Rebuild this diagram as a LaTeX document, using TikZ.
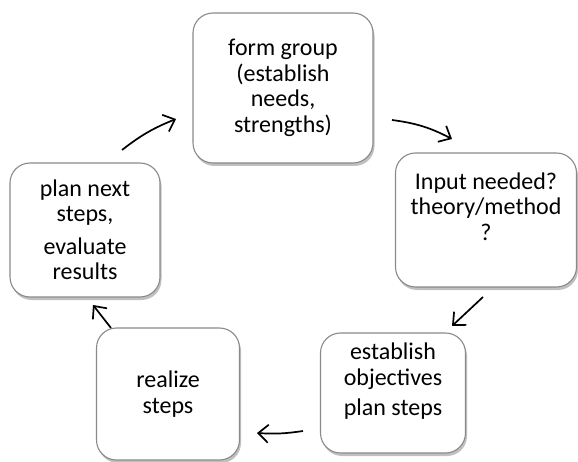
\documentclass[tikz,border=0pt]{standalone}
\usepackage{fontspec}
\setmainfont{Carlito}
\usetikzlibrary{arrows.meta,shadows}
\definecolor{boxline}{HTML}{8A8A8A}
\tikzset{
  box/.style={draw=boxline, line width=1.1pt, fill=white, rounded corners=20pt,
    align=center, inner sep=0pt, font=\fontsize{24}{25.5}\selectfont,
    drop shadow={shadow xshift=1.5pt, shadow yshift=-3pt, opacity=0.45, fill=black!55}},
  flow/.style={line width=1.7pt, -{Straight Barb[length=10pt,width=18pt,line width=1.7pt]}}
}
\begin{document}
\begin{tikzpicture}[x=1pt,y=-1pt]
\useasboundingbox (0,0) rectangle (578,462);
\node[box, minimum width=180pt, minimum height=150pt] (form) at (283,88)
  {form group\\(establish\\needs,\\strengths)};
\node[box, minimum width=181pt, minimum height=134pt] (input) at (486,220)
  {Input needed?\\theory/method\\?\\[2pt]};
\node[box, minimum width=150pt, minimum height=134pt] (plan) at (85,230)
  {plan next\\steps,\\[7pt]evaluate\\results};
\node[box, minimum width=143pt, minimum height=132pt] (real) at (168,394)
  {realize\\steps};
\node[box, minimum width=145pt, minimum height=120pt] (estab) at (393,393)
  {establish\\objectives\\[5pt]plan steps\\[2pt]};
% arrow end points
\coordinate (a1s) at (122,150); \coordinate (a1e) at (176,119);
\coordinate (a2s) at (392,120); \coordinate (a2e) at (452,139);
\coordinate (a3s) at (483,297); \coordinate (a3e) at (452,326);
\coordinate (a4s) at (303,431); \coordinate (a4e) at (257,433);
\coordinate (a5s) at (111,328); \coordinate (a5e) at (93,305);
\draw[flow] (a1s) to[bend left=8] (a1e);
\draw[flow] (a2s) to[bend left=10] (a2e);
\draw[flow] (a3s) -- (a3e);
\draw[flow] (a4s) to[bend left=6] (a4e);
\draw[flow] (a5s) -- (a5e);
\end{tikzpicture}
\end{document}
